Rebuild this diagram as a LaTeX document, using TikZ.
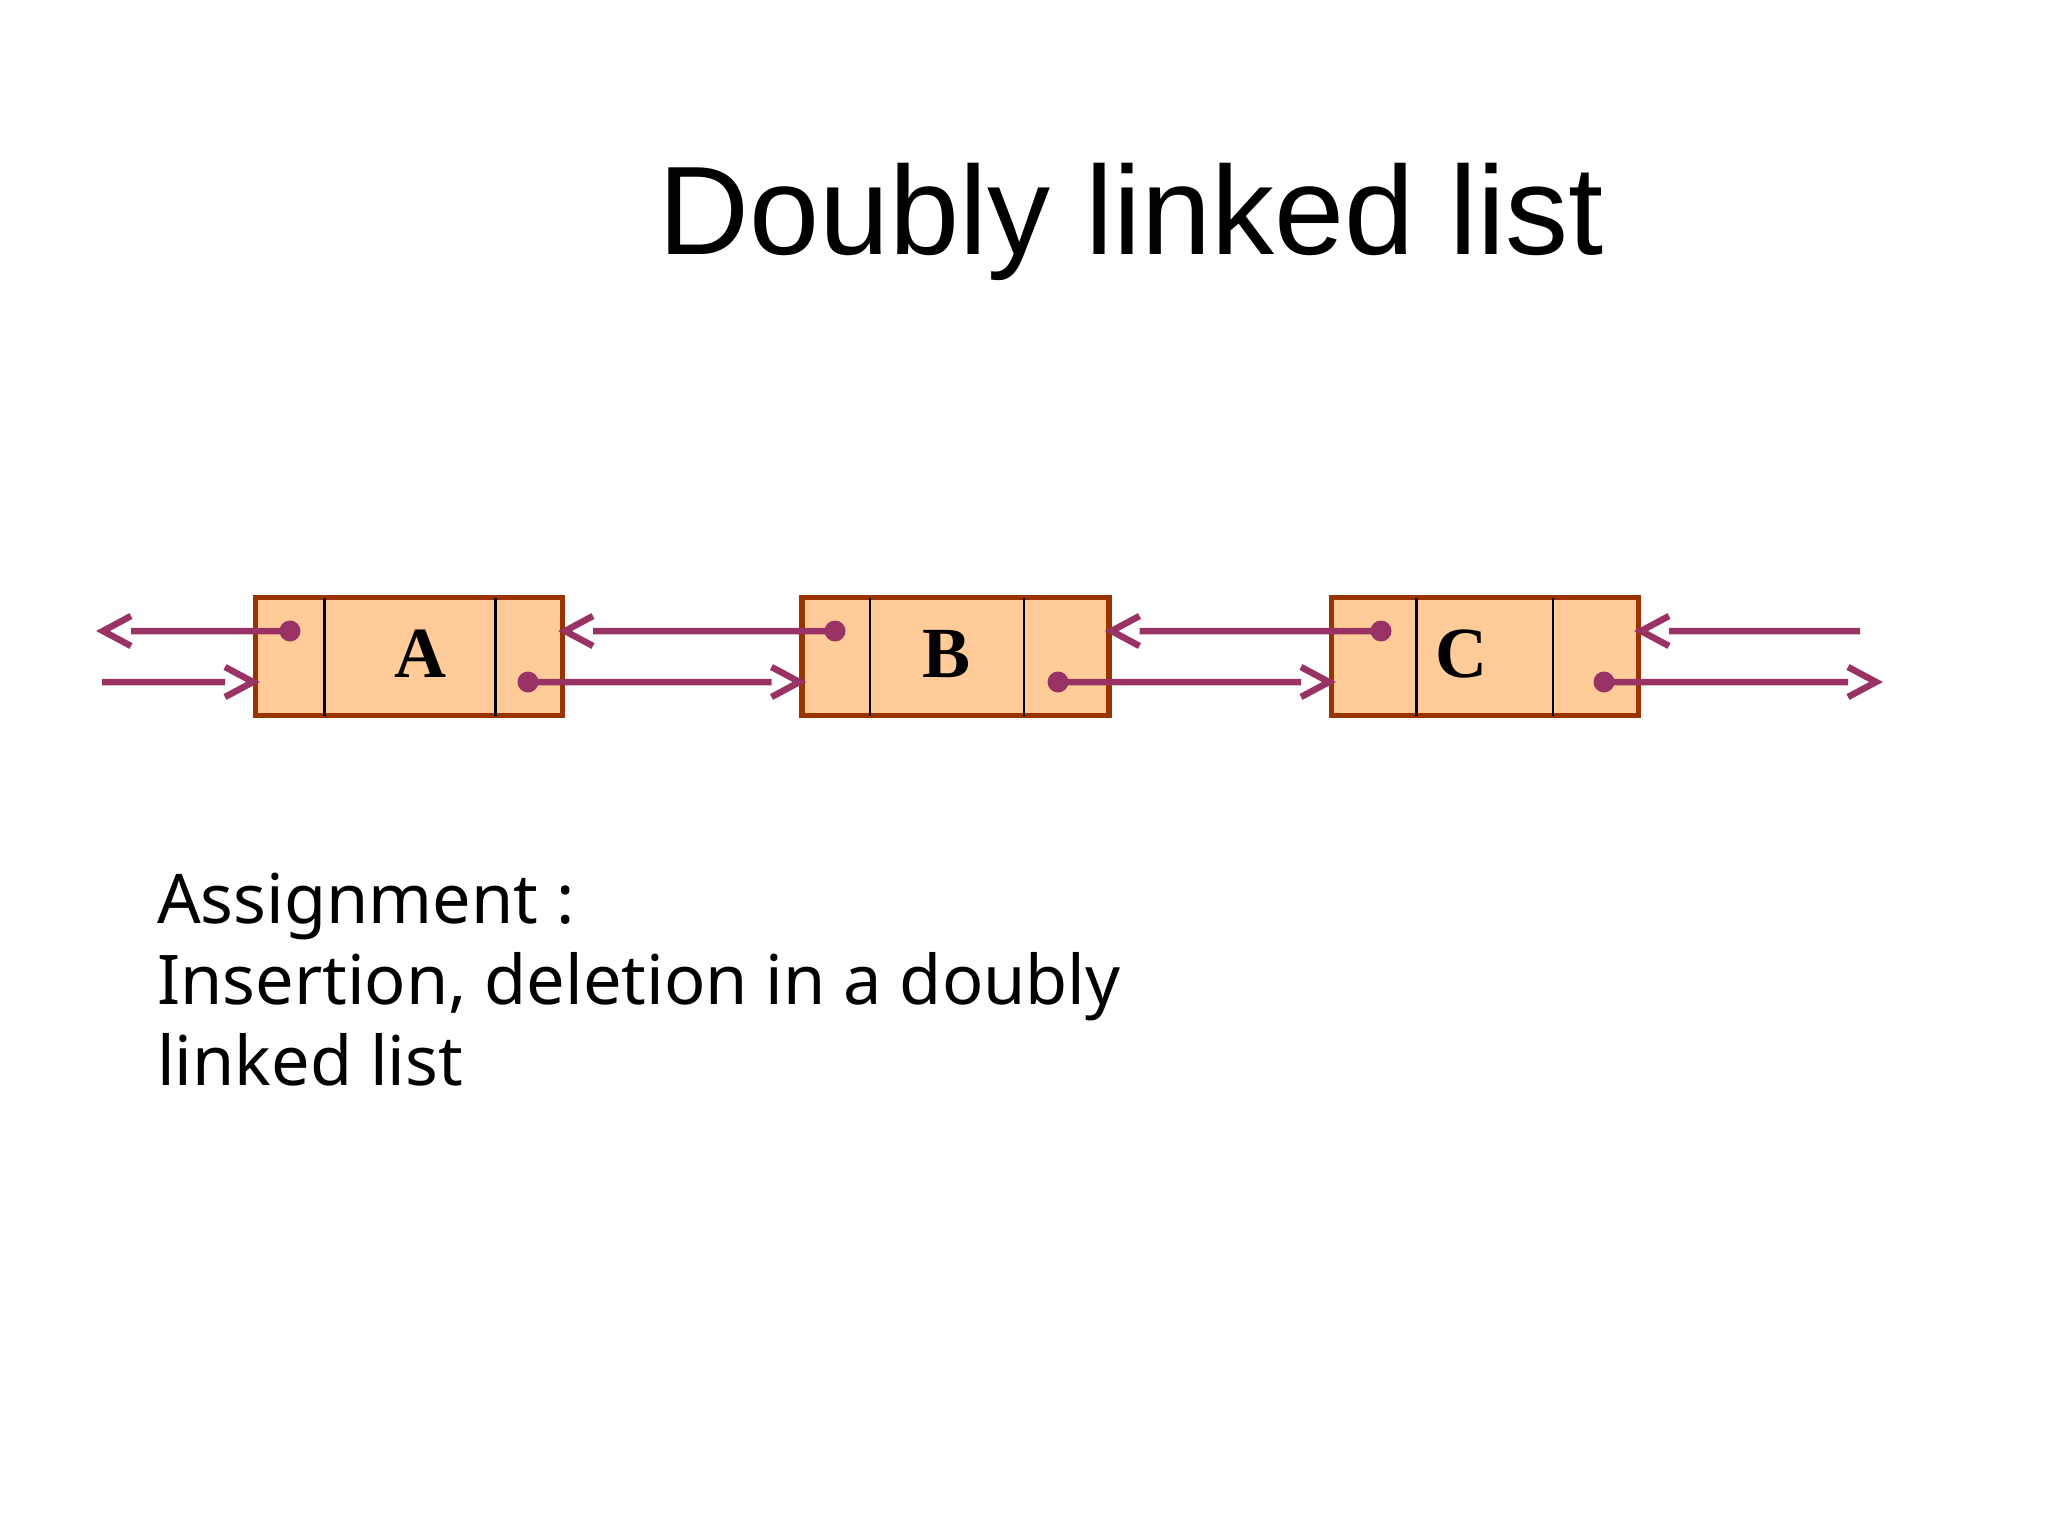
\documentclass[tikz,border=0pt]{standalone}
\usepackage{fontspec}
\setmainfont{Liberation Sans}
\newfontfamily\notofont{Noto Sans}
\newfontfamily\serifface{Liberation Serif}
\usetikzlibrary{calc}
\definecolor{cellfill}{HTML}{FFCC99}
\definecolor{cellborder}{HTML}{993300}
\definecolor{linkcol}{HTML}{993366}
\begin{document}
\begin{tikzpicture}[x=1pt,y=-1pt,
  cell/.style={draw=cellborder, fill=cellfill, line width=5.5pt, minimum width=307pt, minimum height=118pt, inner sep=0pt, outer sep=0pt},
  divider/.style={draw=black, line width=2.2pt},
  ptr/.style={circle, fill=linkcol, minimum size=21pt, inner sep=0pt, outer sep=0pt},
  link/.style={draw=linkcol, line width=6.5pt, line join=miter},
  celltext/.style={font=\serifface\bfseries\fontsize{72}{72}\selectfont, anchor=base, inner sep=0pt}]
\useasboundingbox (0,0) rectangle (2048,1536);
\fill[white] (0,0) rectangle (2048,1536);

\node[anchor=base west, inner sep=0pt, font=\fontsize{126}{126}\selectfont] (title) at (658,254) {Doubly linked list};

% cells
\node[cell] (A) at (409,656.5) {};
\node[cell] (B) at (955.5,656.5) {};
\node[cell] (C) at (1485,656.5) {};

\draw[divider] ([xshift=69pt]A.north west) -- ([xshift=69pt]A.south west);
\draw[divider] ([xshift=240pt]A.north west) -- ([xshift=240pt]A.south west);
\draw[divider] ([xshift=68pt]B.north west) -- ([xshift=68pt]B.south west);
\draw[divider] ([xshift=222pt]B.north west) -- ([xshift=222pt]B.south west);
\draw[divider] ([xshift=85pt]C.north west) -- ([xshift=85pt]C.south west);
\draw[divider] ([xshift=221.5pt]C.north west) -- ([xshift=221.5pt]C.south west);

\node[celltext] (Alab) at (420,677) {A};
\node[celltext] (Blab) at (947,677) {B};
\node[celltext] (Clab) at (1461,677) {C};

% pointer dots
\node[ptr] (Ap) at (290,631) {};
\node[ptr] (An) at (528,682) {};
\node[ptr] (Bp) at (835,631) {};
\node[ptr] (Bn) at (1058,682) {};
\node[ptr] (Cp) at (1381,631) {};
\node[ptr] (Cn) at (1604,682) {};

% free ends
\coordinate (lt) at (103,631);
\coordinate (ls) at (102,682);
\coordinate (rs) at (1860,631);
\coordinate (rt) at (1876,682);

% tips on cell borders
\coordinate (AinW) at ($(A.west |- An)+(-2.5,0)$);
\coordinate (AinE) at ($(A.east |- Ap)+(2.5,0)$);
\coordinate (BinW) at ($(B.west |- An)+(-2.5,0)$);
\coordinate (BinE) at ($(B.east |- Ap)+(2.5,0)$);
\coordinate (CinW) at ($(C.west |- An)+(-2.5,0)$);
\coordinate (CinE) at ($(C.east |- Ap)+(2.5,0)$);

% leftward links
\draw[link] (Ap.center) -- ($(lt)+(28,0)$) ($(lt)+(28,-15)$) -- (lt) -- ($(lt)+(28,15)$);
\draw[link] (Bp.center) -- ($(AinE)+(28,0)$) ($(AinE)+(28,-15)$) -- (AinE) -- ($(AinE)+(28,15)$);
\draw[link] (Cp.center) -- ($(BinE)+(28,0)$) ($(BinE)+(28,-15)$) -- (BinE) -- ($(BinE)+(28,15)$);
\draw[link] (rs) -- ($(CinE)+(28,0)$) ($(CinE)+(28,-15)$) -- (CinE) -- ($(CinE)+(28,15)$);

% rightward links
\draw[link] (ls) -- ($(AinW)+(-28,0)$) ($(AinW)+(-28,-15)$) -- (AinW) -- ($(AinW)+(-28,15)$);
\draw[link] (An.center) -- ($(BinW)+(-28,0)$) ($(BinW)+(-28,-15)$) -- (BinW) -- ($(BinW)+(-28,15)$);
\draw[link] (Bn.center) -- ($(CinW)+(-28,0)$) ($(CinW)+(-28,-15)$) -- (CinW) -- ($(CinW)+(-28,15)$);
\draw[link] (Cn.center) -- ($(rt)+(-28,0)$) ($(rt)+(-28,-15)$) -- (rt) -- ($(rt)+(-28,15)$);

\node[anchor=base west, align=left, inner sep=0pt, font=\notofont\fontsize{68.5}{81}\selectfont] (task) at (157,1085) {Assignment :\\Insertion, deletion in a doubly\\linked list};
\end{tikzpicture}
\end{document}
